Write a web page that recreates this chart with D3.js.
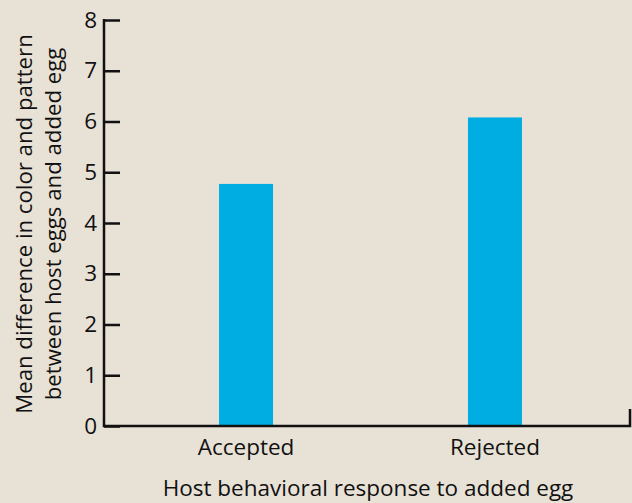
<!DOCTYPE html>
<html>
<head>
<meta charset="utf-8">
<script src="https://cdn.jsdelivr.net/npm/d3@7"></script>
<style>
  body { margin: 0; background: #e8e1d6; }
  text { font-family: "Open Sans", sans-serif; fill: #111; }
</style>
</head>
<body>
<div id="chart"></div>
<script>
// Data
const categories = ["Accepted", "Rejected"]
const meanDiff = [4.77, 6.08]
const yTicks = [0, 1, 2, 3, 4, 5, 6, 7, 8]
const yTitle = ["Mean difference in color and pattern", "between host eggs and added egg"]
const xTitle = "Host behavioral response to added egg"

function draw() {
  const dataset = categories.map((c, i) => ({ cat: c, value: meanDiff[i] }))

  let dimensions = {
    width: 632,
    height: 503,
    left: 104,
    top: 20,
    bottom: 426,
    right: 630,
  }

  const svg = d3.select("#chart")
    .append("svg")
    .attr("width", dimensions.width)
    .attr("height", dimensions.height)

  svg.append("rect")
    .attr("width", dimensions.width)
    .attr("height", dimensions.height)
    .attr("fill", "#e8e1d6")

  // Scales
  const yScale = d3.scaleLinear()
    .domain([0, 8])
    .range([dimensions.bottom, dimensions.top])

  const xScale = d3.scaleBand()
    .domain(categories)
    .range([107, 634])
    .paddingInner(0.783)
    .paddingOuter(0.45)

  // Bars
  svg.append("g")
    .selectAll("rect")
    .data(dataset)
    .join("rect")
    .attr("x", d => xScale(d.cat))
    .attr("width", xScale.bandwidth())
    .attr("y", d => yScale(d.value))
    .attr("height", d => yScale(0) - yScale(d.value))
    .attr("fill", "#00ade2")

  // Y axis
  const yAxis = d3.axisLeft(yScale)
    .tickValues(yTicks)
    .tickSize(-16)
    .tickPadding(7)
    .tickSizeOuter(0)

  const yAxisGroup = svg.append("g")
    .attr("transform", `translate(${dimensions.left}, 0)`)
    .call(yAxis)

  yAxisGroup.select(".domain").remove()
  yAxisGroup.selectAll(".tick line")
    .attr("stroke", "#111")
    .attr("stroke-width", 2.5)
  yAxisGroup.selectAll(".tick text")
    .attr("font-size", 22.5)
    .attr("font-family", "Open Sans, sans-serif")
    .attr("fill", "#111")

  // axis frame lines
  svg.append("path")
    .attr("d", `M${dimensions.left},${dimensions.top - 1}V${dimensions.bottom}H${dimensions.right}V${dimensions.bottom - 17}`)
    .attr("fill", "none")
    .attr("stroke", "#111")
    .attr("stroke-width", 2.5)

  // X axis labels
  const xAxis = d3.axisBottom(xScale)
    .tickSize(0)
    .tickPadding(13)

  const xAxisGroup = svg.append("g")
    .attr("transform", `translate(0, ${dimensions.bottom})`)
    .call(xAxis)

  xAxisGroup.select(".domain").remove()
  xAxisGroup.selectAll(".tick text")
    .attr("font-size", 22.5)
    .attr("font-family", "Open Sans, sans-serif")
    .attr("fill", "#111")

  // Titles
  svg.append("text")
    .attr("x", 368)
    .attr("y", 496)
    .attr("text-anchor", "middle")
    .attr("font-size", 22.5)
    .text(xTitle)

  const yt = svg.append("text")
    .attr("transform", "translate(0, 224) rotate(-90)")
    .attr("text-anchor", "middle")
    .attr("font-size", 22.2)

  yt.selectAll("tspan")
    .data(yTitle)
    .join("tspan")
    .attr("x", 0)
    .attr("y", (d, i) => 32 + i * 28.5)
    .text(d => d)
}

draw()
</script>
</body>
</html>
